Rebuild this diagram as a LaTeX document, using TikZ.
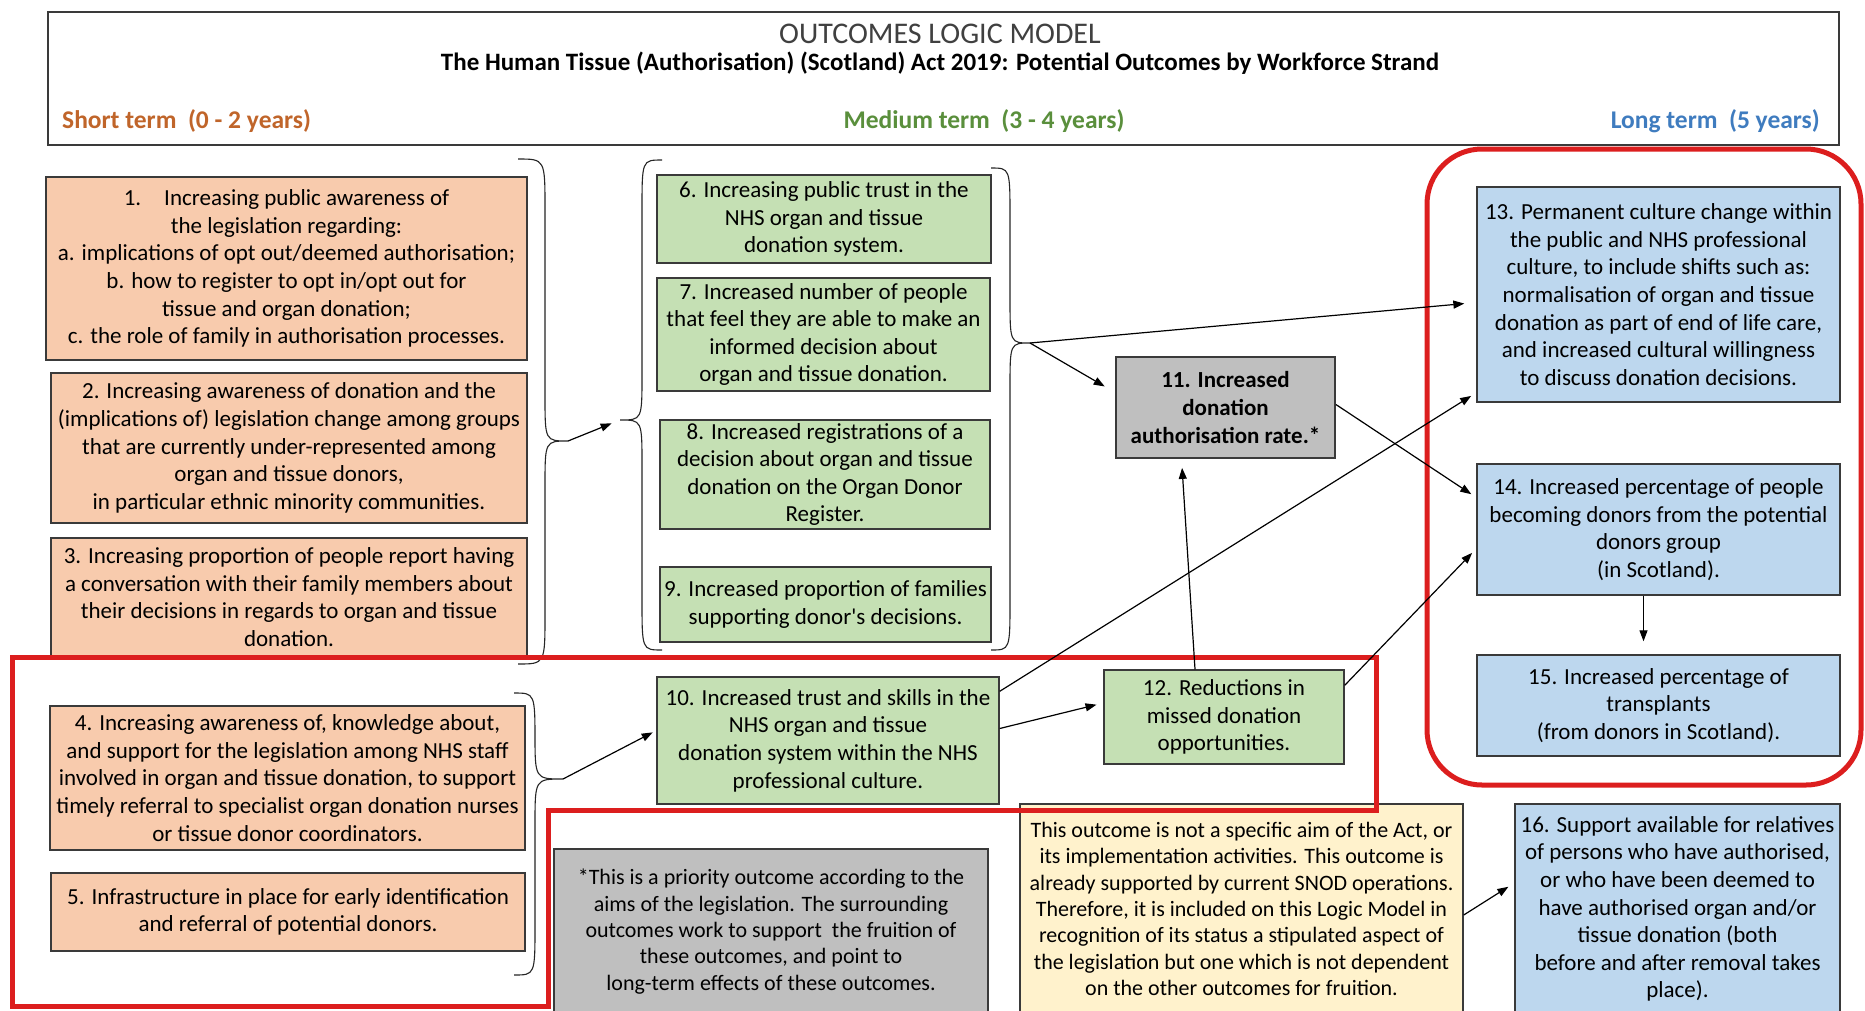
\documentclass[tikz,border=0pt]{standalone}
\usepackage{fontspec}
\setmainfont{Carlito}
\usetikzlibrary{arrows.meta,calc}
\definecolor{orfill}{HTML}{F8CBAD}
\definecolor{grfill}{HTML}{C5E0B4}
\definecolor{blfill}{HTML}{BDD7EE}
\definecolor{gyfill}{HTML}{BFBFBF}
\definecolor{ylfill}{HTML}{FFF2CC}
\definecolor{bordc}{HTML}{3A3A3A}
\definecolor{redc}{HTML}{DC1E1E}
\definecolor{shortc}{HTML}{C0652A}
\definecolor{medc}{HTML}{5A8F3C}
\definecolor{longc}{HTML}{3F7CBF}
\newcommand\bxfont{\fontsize{23}{27.6}\selectfont}
\newcommand\ntfont{\fontsize{22}{26.3}\selectfont}
\newcommand\braceRight[6]{% x0 xm xtip ytop ytip ybot
  \draw[bracel] (#1,#4) .. controls (#2,#4) .. (#2,#4+50) -- (#2,#5-45)
    .. controls (#2,#5) .. (#3,#5) .. controls (#2,#5) .. (#2,#5+45)
    -- (#2,#6-50) .. controls (#2,#6) .. (#1,#6);}
\begin{document}
\begin{tikzpicture}[x=1pt,y=-1pt,
  box/.style={draw=bordc, line width=1.4pt, align=center, inner sep=0pt, font=\bxfont},
  obox/.style={box, fill=orfill},
  gbox/.style={box, fill=grfill},
  bbox/.style={box, fill=blfill},
  arr/.style={-{Triangle[length=11pt,width=8pt]}, line width=1.2pt, black},
  bracel/.style={line width=1.1pt, black!85},
  redl/.style={draw=redc, line width=5pt},
  term/.style={font=\bfseries\fontsize{25.5}{30}\selectfont, inner sep=0pt}]
\useasboundingbox (0,0) rectangle (1865,1010);
\fill[white] (0,0) rectangle (1865,1010);

% header
\draw[line width=1.4pt, bordc] (48,12) rectangle (1839,145);
\node[font=\fontsize{30}{34}\selectfont, text=black!75, inner sep=0pt] (title) at (940,34) {OUTCOMES LOGIC MODEL};
\node[font=\bfseries\fontsize{25}{29}\selectfont, inner sep=0pt] (sub) at (940,63) {The Human Tissue (Authorisation) (Scotland) Act 2019: Potential Outcomes by Workforce Strand};
\node[term, anchor=west, text=shortc] (st) at (62,121) {Short term\ \ (0 - 2 years)};
\node[term, text=medc] (mt) at (984,121) {Medium term\ \ (3 - 4 years)};
\node[term, anchor=east, text=longc] (lt) at (1820,121) {Long term\ \ (5 years)};

% short term boxes
\node[obox, minimum width=481pt, minimum height=183pt] (n1) at (286.5,268.5) {1.\quad Increasing public awareness of\\the legislation regarding:\\a. implications of opt out/deemed authorisation;\\b. how to register to opt in/opt out for\\tissue and organ donation;\\c. the role of family in authorisation processes.};
\node[obox, minimum width=476pt, minimum height=150pt] (n2) at (289,448) {2. Increasing awareness of donation and the\\(implications of) legislation change among groups\\that are currently under-represented among\\organ and tissue donors,\\in particular ethnic minority communities.};
\node[obox, minimum width=476pt, minimum height=118pt] (n3) at (289,597) {3. Increasing proportion of people report having\\a conversation with their family members about\\their decisions in regards to organ and tissue\\donation.};
\node[obox, minimum width=475pt, minimum height=144pt] (n4) at (287.5,778) {4. Increasing awareness of, knowledge about,\\and support for the legislation among NHS staff\\involved in organ and tissue donation, to support\\timely referral to specialist organ donation nurses\\or tissue donor coordinators.};
\node[obox, minimum width=474pt, minimum height=78pt] (n5) at (288,912) {5. Infrastructure in place for early identification\\and referral of potential donors.};

% medium term boxes
\node[gbox, minimum width=334pt, minimum height=88pt] (n6) at (824,219) {6. Increasing public trust in the\\NHS organ and tissue\\donation system.};
\node[gbox, minimum width=333pt, minimum height=113pt] (n7) at (823.5,334.5) {7. Increased number of people\\that feel they are able to make an\\informed decision about\\organ and tissue donation.};
\node[gbox, minimum width=330pt, minimum height=109pt] (n8) at (825,474.5) {8. Increased registrations of a\\decision about organ and tissue\\donation on the Organ Donor\\Register.};
\node[gbox, minimum width=331pt, minimum height=75pt] (n9) at (825.5,604.5) {9. Increased proportion of families\\supporting donor\textquotesingle s decisions.};
\node[gbox, minimum width=342pt, minimum height=127pt] (n10) at (828,740.5) {10. Increased trust and skills in the\\NHS organ and tissue\\donation system within the NHS\\professional culture.};
\node[box, fill=gyfill, font=\bfseries\bxfont, line width=1.8pt, minimum width=219pt, minimum height=101pt] (n11) at (1225.5,407.5) {11. Increased\\donation\\authorisation rate.*};
\node[gbox, minimum width=240pt, minimum height=94pt] (n12) at (1224,717) {12. Reductions in\\missed donation\\opportunities.};

% long term boxes
\node[bbox, minimum width=363pt, minimum height=215pt] (n13) at (1658.5,294.5) {13. Permanent culture change within\\the public and NHS professional\\culture, to include shifts such as:\\normalisation of organ and tissue\\donation as part of end of life care,\\and increased cultural willingness\\to discuss donation decisions.};
\node[bbox, minimum width=363pt, minimum height=131pt] (n14) at (1658.5,529.5) {14. Increased percentage of people\\becoming donors from the potential\\donors group\\(in Scotland).};
\node[bbox, minimum width=363pt, minimum height=101pt] (n15) at (1658.5,705.5) {15. Increased percentage of\\transplants\\(from donors in Scotland).};
\node[bbox, minimum width=325pt, minimum height=210pt] (n16) at (1677.5,909) {16. Support available for relatives\\of persons who have authorised,\\or who have been deemed to\\have authorised organ and/or\\tissue donation (both\\before and after removal takes\\place).};

% notes
\node[box, fill=gyfill, font=\ntfont, minimum width=434pt, minimum height=165pt] (note1) at (771,931.5) {*This is a priority outcome according to the\\aims of the legislation. The surrounding\\outcomes work to support\ \ the fruition of\\these outcomes, and point to\\long-term effects of these outcomes.};
\node[box, fill=ylfill, font=\ntfont, minimum width=443pt, minimum height=210pt] (note2) at (1241.5,909) {This outcome is not a specific aim of the Act, or\\its implementation activities. This outcome is\\already supported by current SNOD operations.\\Therefore, it is included on this Logic Model in\\recognition of its status a stipulated aspect of\\the legislation but one which is not dependent\\on the other outcomes for fruition.};

% braces
\braceRight{518}{545}{568}{159}{441}{664}
\braceRight{991}{1010}{1030}{168}{343}{650}
\braceRight{514}{535}{563}{693}{779}{975}
\braceRight{662}{642}{620}{160}{420}{650}
\coordinate (b1tip) at (568,441);
\coordinate (b2tip) at (620,420);
\coordinate (b3tip) at (1030,343);
\coordinate (b4tip) at (563,779);

% red outlines
\draw[redl, rounded corners=55pt] (1427,149) rectangle (1861,785);
\draw[redl] (12,657) -- (1376,657) -- (1376,810) -- (548,810) -- (548,1006) -- (12,1006) -- cycle;

% arrows
\draw[arr, shorten >=9pt] (b1tip) -- (b2tip);
\draw[arr, shorten >=4pt] (b4tip) -- ($(n10.west)+(0,-10)$);
\draw[arr, shorten >=12pt] (b3tip) -- ($(n13.west)+(0,8)$);
\draw[arr, shorten >=12pt] (b3tip) -- ($(n11.west)+(0,-15)$);
\draw[arr, shorten >=7pt] ($(n10.east)+(0,-12)$) -- ($(n12.west)+(0,-14)$);
\draw[arr, shorten >=6pt] ($(n10.north east)+(0,15)$) -- ($(n13.south west)+(0,-10)$);
\draw[arr, shorten >=9pt] ($(n12.north)+(-29,0)$) -- ($(n11.south)+(-44,0)$);
\draw[arr, shorten >=6pt] ($(n11.east)+(0,-3)$) -- ($(n14.west)+(0,-32)$);
\draw[arr, shorten >=6pt] ($(n12.north east)+(0,16)$) -- ($(n14.west)+(0,19)$);
\draw[arr, shorten >=13pt] ($(n14.south)+(-15,0)$) -- ($(n15.north)+(-15,0)$);
\draw[arr, shorten >=7pt] ($(note2.east)+(0,6)$) -- ($(n16.west)+(0,-26)$);
\end{tikzpicture}
\end{document}
